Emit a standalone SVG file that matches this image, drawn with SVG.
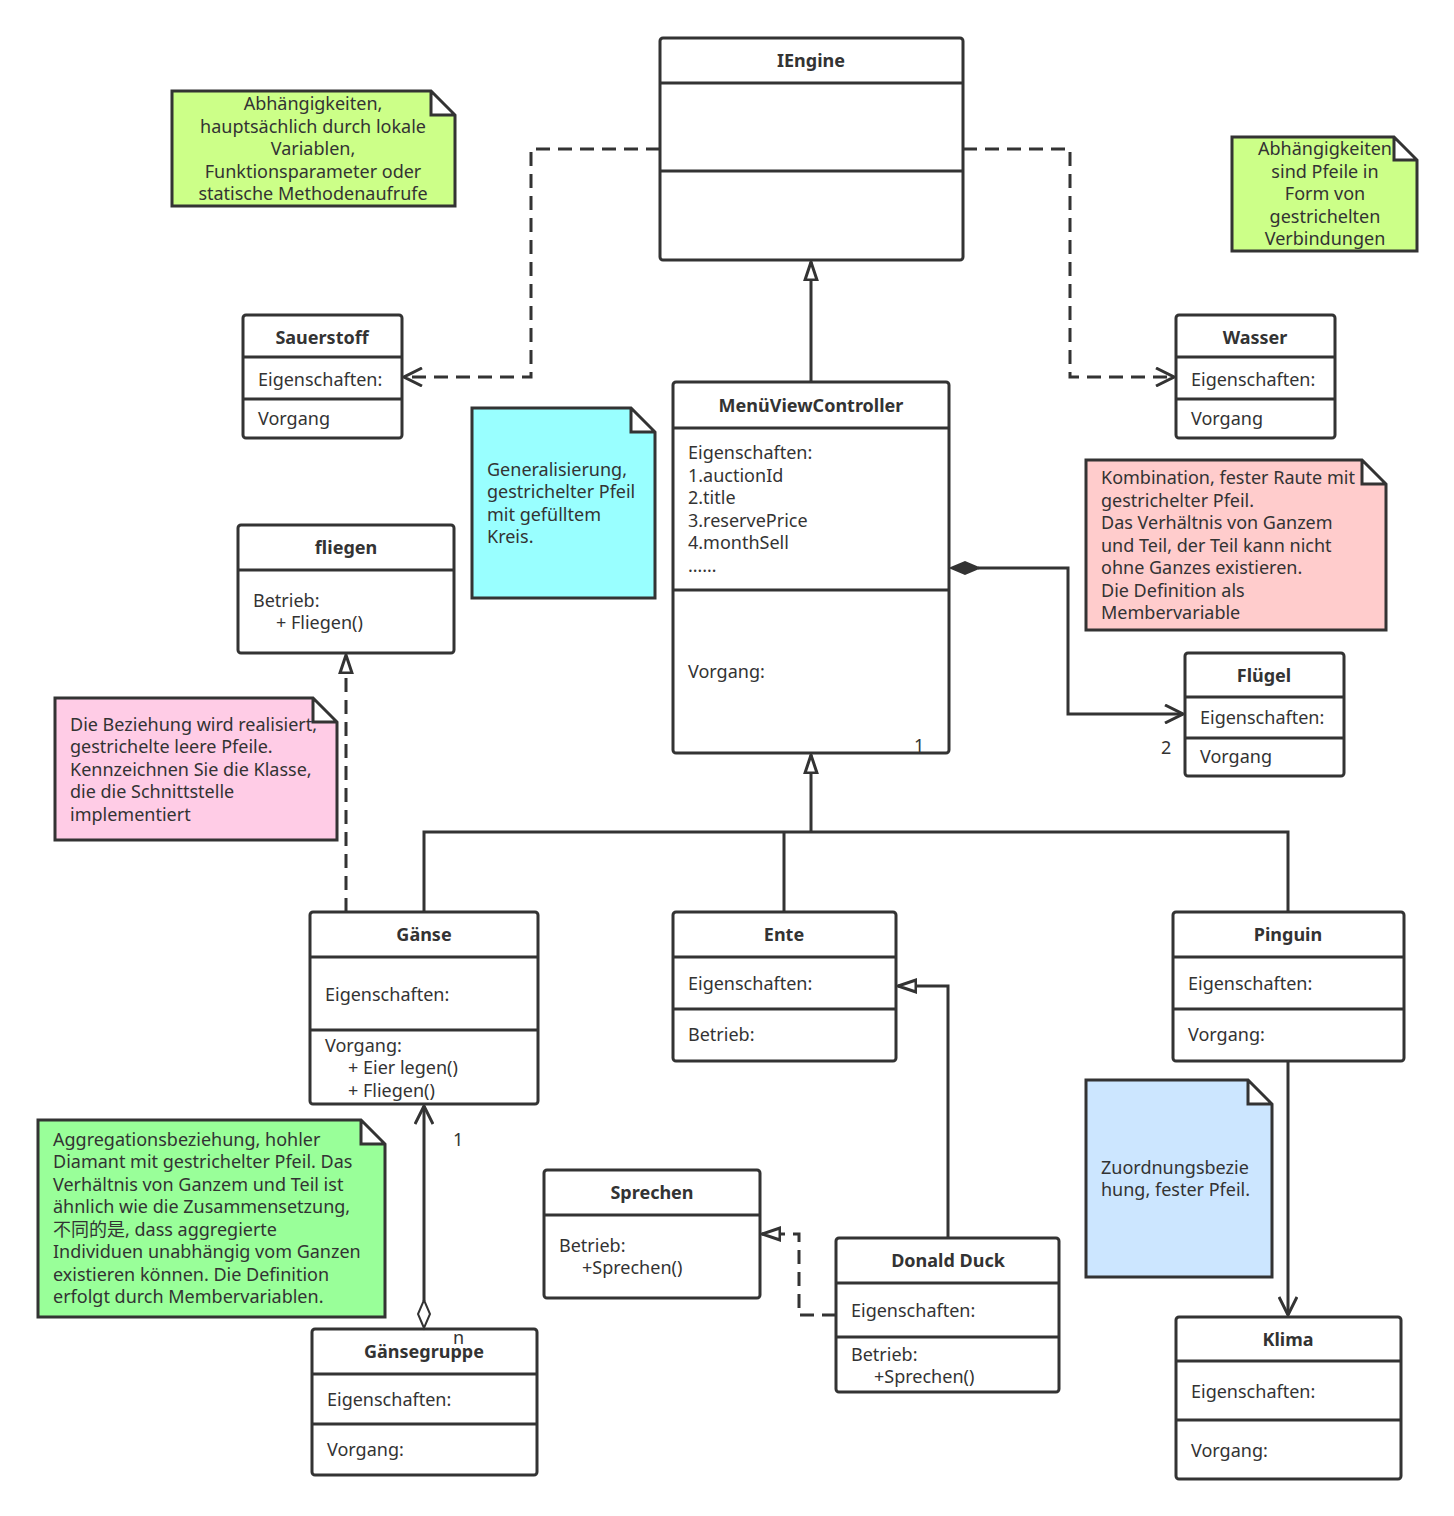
<svg xmlns="http://www.w3.org/2000/svg" width="1454" height="1516" viewBox="0 0 1454 1516">
<style>
text{font-family:"Microsoft YaHei","Noto Sans","Noto Sans CJK SC",sans-serif;font-size:18px;fill:#333}
.t{font-weight:bold;text-anchor:middle}
.box{fill:#fff;stroke:#333;stroke-width:3}
.ln{stroke:#333;stroke-width:3}
.c{fill:none;stroke:#333;stroke-width:3}
.d{stroke-dasharray:14 8}
.note{stroke:#333;stroke-width:3}
</style>
<defs>
<marker id="open" viewBox="0 0 20 20" refX="19" refY="10" markerWidth="20" markerHeight="20" markerUnits="userSpaceOnUse" orient="auto"><path d="M1,1 L19,10 L1,19" fill="none" stroke="#333" stroke-width="3"/></marker>
<marker id="tri" viewBox="0 0 20 20" refX="19" refY="10" markerWidth="20" markerHeight="20" markerUnits="userSpaceOnUse" orient="auto"><path d="M1,4 L19,10 L1,16 Z" fill="#fff" stroke="#333" stroke-width="3"/></marker>
</defs>
<rect width="1454" height="1516" fill="#fff"/>
<g id="IEngine"><rect class="box" x="660" y="38" width="303" height="222" rx="3"/><path class="ln" d="M660,83 H963 M660,171 H963"/><text class="t" x="811" y="67">IEngine</text></g>
<g id="Sauerstoff"><rect class="box" x="243" y="315" width="159" height="123" rx="3"/><path class="ln" d="M243,357 H402 M243,399 H402"/><text class="t" x="322" y="344">Sauerstoff</text><text x="258" y="386">Eigenschaften:</text><text x="258" y="425">Vorgang</text></g>
<g id="Wasser"><rect class="box" x="1176" y="315" width="159" height="123" rx="3"/><path class="ln" d="M1176,357 H1335 M1176,399 H1335"/><text class="t" x="1255" y="344">Wasser</text><text x="1191" y="386">Eigenschaften:</text><text x="1191" y="425">Vorgang</text></g>
<g id="MVC"><rect class="box" x="673" y="382" width="276" height="371" rx="3"/><path class="ln" d="M673,428 H949 M673,590 H949"/><text class="t" x="811" y="412">MenüViewController</text>
<text x="688" y="459">Eigenschaften:</text><text x="688" y="482">1.auctionId</text><text x="688" y="504">2.title</text><text x="688" y="527">3.reservePrice</text><text x="688" y="549">4.monthSell</text><text x="688" y="572">……</text><text x="688" y="678">Vorgang:</text></g>
<g id="fliegen"><rect class="box" x="238" y="525" width="216" height="128" rx="3"/><path class="ln" d="M238,570 H454"/><text class="t" x="346" y="554">fliegen</text><text x="253" y="607">Betrieb:</text><text x="276" y="629">+ Fliegen()</text></g>
<g id="Fluegel"><rect class="box" x="1185" y="653" width="159" height="123" rx="3"/><path class="ln" d="M1185,697 H1344 M1185,738 H1344"/><text class="t" x="1264" y="682">Flügel</text><text x="1200" y="724">Eigenschaften:</text><text x="1200" y="763">Vorgang</text></g>
<g id="Gaense"><rect class="box" x="310" y="912" width="228" height="192" rx="3"/><path class="ln" d="M310,957 H538 M310,1030 H538"/><text class="t" x="424" y="941">Gänse</text><text x="325" y="1001">Eigenschaften:</text><text x="325" y="1052">Vorgang:</text><text x="348" y="1074">+ Eier legen()</text><text x="348" y="1097">+ Fliegen()</text></g>
<g id="Ente"><rect class="box" x="673" y="912" width="223" height="149" rx="3"/><path class="ln" d="M673,957 H896 M673,1009 H896"/><text class="t" x="784" y="941">Ente</text><text x="688" y="990">Eigenschaften:</text><text x="688" y="1041">Betrieb:</text></g>
<g id="Pinguin"><rect class="box" x="1173" y="912" width="231" height="149" rx="3"/><path class="ln" d="M1173,957 H1404 M1173,1009 H1404"/><text class="t" x="1288" y="941">Pinguin</text><text x="1188" y="990">Eigenschaften:</text><text x="1188" y="1041">Vorgang:</text></g>
<g id="Sprechen"><rect class="box" x="544" y="1170" width="216" height="128" rx="3"/><path class="ln" d="M544,1215 H760"/><text class="t" x="652" y="1199">Sprechen</text><text x="559" y="1252">Betrieb:</text><text x="582" y="1274">+Sprechen()</text></g>
<g id="DonaldDuck"><rect class="box" x="836" y="1238" width="223" height="154" rx="3"/><path class="ln" d="M836,1283 H1059 M836,1337 H1059"/><text class="t" x="948" y="1267">Donald Duck</text><text x="851" y="1317">Eigenschaften:</text><text x="851" y="1361">Betrieb:</text><text x="874" y="1383">+Sprechen()</text></g>
<g id="Gaensegruppe"><rect class="box" x="312" y="1329" width="225" height="146" rx="3"/><path class="ln" d="M312,1374 H537 M312,1424 H537"/><text class="t" x="424" y="1358">Gänsegruppe</text><text x="327" y="1406">Eigenschaften:</text><text x="327" y="1456">Vorgang:</text></g>
<g id="Klima"><rect class="box" x="1176" y="1317" width="225" height="162" rx="3"/><path class="ln" d="M1176,1361 H1401 M1176,1420 H1401"/><text class="t" x="1288" y="1346">Klima</text><text x="1191" y="1398">Eigenschaften:</text><text x="1191" y="1457">Vorgang:</text></g>
<g id="note1"><path class="note" fill="#ccff88" d="M172,91 H431 L455,115 V206 H172 Z M431,91 V115 H455"/><g text-anchor="middle"><text x="313" y="110">Abhängigkeiten,</text><text x="313" y="133">hauptsächlich durch lokale</text><text x="313" y="155">Variablen,</text><text x="313" y="178">Funktionsparameter oder</text><text x="313" y="200">statische Methodenaufrufe</text></g></g>
<g id="note2"><path class="note" fill="#ccff88" d="M1232,137 H1394 L1417,160 V251 H1232 Z M1394,137 V160 H1417"/><g text-anchor="middle"><text x="1325" y="155">Abhängigkeiten</text><text x="1325" y="178">sind Pfeile in</text><text x="1325" y="200">Form von</text><text x="1325" y="223">gestrichelten</text><text x="1325" y="245">Verbindungen</text></g></g>
<g id="note3"><path class="note" fill="#99ffff" d="M472,408 H631 L655,432 V598 H472 Z M631,408 V432 H655"/><text x="487" y="476">Generalisierung,</text><text x="487" y="498">gestrichelter Pfeil</text><text x="487" y="521">mit gefülltem</text><text x="487" y="543">Kreis.</text></g>
<g id="note4"><path class="note" fill="#ffcccc" d="M1086,460 H1362 L1386,484 V630 H1086 Z M1362,460 V484 H1386"/><text x="1101" y="484">Kombination, fester Raute mit</text><text x="1101" y="507">gestrichelter Pfeil.</text><text x="1101" y="529">Das Verhältnis von Ganzem</text><text x="1101" y="552">und Teil, der Teil kann nicht</text><text x="1101" y="574">ohne Ganzes existieren.</text><text x="1101" y="597">Die Definition als</text><text x="1101" y="619">Membervariable</text></g>
<g id="note5"><path class="note" fill="#ffcce6" d="M55,698 H313 L337,722 V840 H55 Z M313,698 V722 H337"/><text x="70" y="731">Die Beziehung wird realisiert,</text><text x="70" y="753">gestrichelte leere Pfeile.</text><text x="70" y="776">Kennzeichnen Sie die Klasse,</text><text x="70" y="798">die die Schnittstelle</text><text x="70" y="821">implementiert</text></g>
<g id="note6"><path class="note" fill="#99ff99" d="M38,1120 H361 L385,1144 V1317 H38 Z M361,1120 V1144 H385"/><text x="53" y="1146">Aggregationsbeziehung, hohler</text><text x="53" y="1168">Diamant mit gestrichelter Pfeil. Das</text><text x="53" y="1191">Verhältnis von Ganzem und Teil ist</text><text x="53" y="1213">ähnlich wie die Zusammensetzung,</text><text x="53" y="1236">不同的是, dass aggregierte</text><text x="53" y="1258">Individuen unabhängig vom Ganzen</text><text x="53" y="1281">existieren können. Die Definition</text><text x="53" y="1303">erfolgt durch Membervariablen.</text></g>
<g id="note7"><path class="note" fill="#cce6ff" d="M1086,1080 H1248 L1272,1104 V1277 H1086 Z M1248,1080 V1104 H1272"/><text x="1101" y="1174">Zuordnungsbezie</text><text x="1101" y="1196">hung, fester Pfeil.</text></g>
<g id="connectors">
<path class="c d" d="M660,149 H531 V377 H404" marker-end="url(#open)"/>
<path class="c d" d="M963,149 H1070 V377 H1174" marker-end="url(#open)"/>
<path class="c" d="M811,382 V262" marker-end="url(#tri)"/>
<path class="c" d="M424,912 V832 H1288 V912 M784,912 V832"/>
<path class="c" d="M811,832 V755" marker-end="url(#tri)"/>
<path class="c" d="M978,568 H1068 V714 H1183" marker-end="url(#open)"/>
<path d="M951,568 L965,562 L979,568 L965,574 Z" fill="#333" stroke="#333" stroke-width="2"/>
<path class="c d" d="M346,912 V655" marker-end="url(#tri)"/>
<path class="c" d="M424,1301 V1106" marker-end="url(#open)"/>
<path d="M424,1328 L418,1314 L424,1300 L430,1314 Z" fill="#fff" stroke="#333" stroke-width="2"/>
<path class="c" d="M948,1238 V986 H898" marker-end="url(#tri)"/>
<path class="c d" d="M836,1315 H799 V1234 H762" marker-end="url(#tri)"/>
<path class="c" d="M1288,1061 V1315" marker-end="url(#open)"/>
<text x="914" y="752">1</text>
<text x="1161" y="754">2</text>
<text x="453" y="1146">1</text>
<text x="453" y="1344">n</text>
</g>
</svg>
